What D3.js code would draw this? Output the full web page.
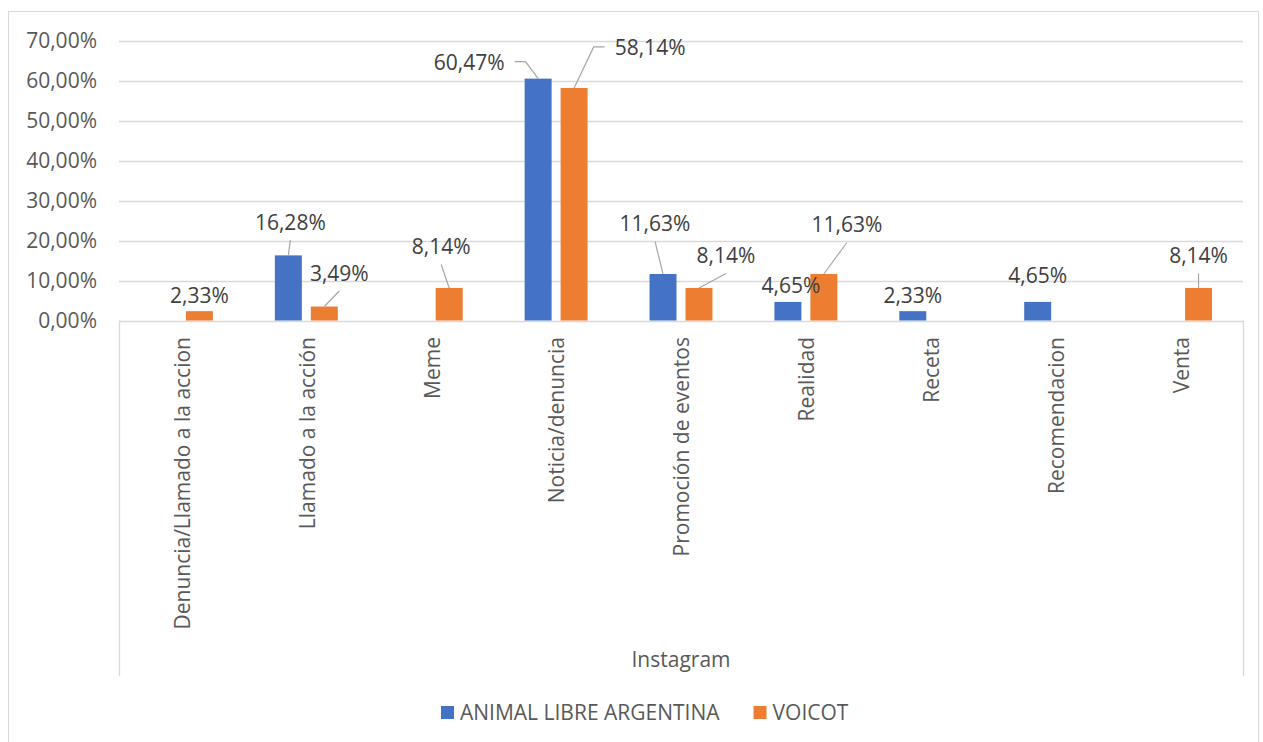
<!DOCTYPE html>
<html>
<head>
<meta charset="utf-8">
<script src="https://cdn.jsdelivr.net/npm/d3@7"></script>
<style>
  html, body { margin: 0; padding: 0; background: #fff; }
  svg text { font-family: "Open Sans", "Noto Sans", sans-serif; fill: #595959; }
  svg text.data-label { fill: #404040; }
</style>
</head>
<body>
<svg id="chart" width="1263" height="742"></svg>
<script>
// Categories and series
const categories = [
  "Denuncia/Llamado a la accion", "Llamado a la acción", "Meme", "Noticia/denuncia",
  "Promoción de eventos", "Realidad", "Receta", "Recomendacion", "Venta"
];
const seriesNames = ["ANIMAL LIBRE ARGENTINA", "VOICOT"];
const animalLibre = [0, 16.28, 0, 60.47, 11.63, 4.65, 2.33, 4.65, 0];
const voicot      = [2.33, 3.49, 8.14, 58.14, 8.14, 11.63, 0, 0, 8.14];
const yTicks = [0, 10, 20, 30, 40, 50, 60, 70];
const axisTitle = "Instagram";

// Data-label placement (offset of label centre from bar top, in px) and leader style
const labelOffsets = [
  // ANIMAL LIBRE ARGENTINA
  [null, {dx: 2, dy: -33, leader: "below"}, null, {dx: -69, dy: -16, leader: "side"},
   {dx: -8, dy: -50, leader: "below"}, {dx: 3, dy: -16}, {dx: 0, dy: -16}, {dx: 0, dy: -26}, null],
  // VOICOT
  [{dx: 0, dy: -16}, {dx: 15, dy: -33, leader: "below"}, {dx: -8, dy: -41, leader: "below"},
   {dx: 76, dy: -40, leader: "side"}, {dx: 27, dy: -32, leader: "below"},
   {dx: 23, dy: -49, leader: "below"}, null, null, {dx: 0, dy: -32, leader: "below"}]
];

const colors = ["#4472C4", "#ED7D31"];
const values = [animalLibre, voicot];
const fontSize = 21;

const locale = d3.formatLocale({decimal: ",", thousands: ".", grouping: [3], currency: ["", "€"]});
const fmt = locale.format(".2f");

const svg = d3.select("#chart");
const plot = {left: 119, right: 1243, top: 40.5, bottom: 320.5};

// Outer chart frame
svg.append("rect")
  .attr("x", 8.5).attr("y", 11.5).attr("width", 1250).attr("height", 740)
  .attr("fill", "none").attr("stroke", "#d9d9d9").attr("stroke-width", 1);

const y = d3.scaleLinear().domain([0, 70]).range([plot.bottom, plot.top]);
const x = d3.scaleBand().domain(categories).range([plot.left, plot.right]).padding(0);
const bw = x.bandwidth();
const xs = d3.scaleBand().domain(seriesNames)
  .range([-bw * 0.252, bw * 0.252]).paddingInner(0.25).paddingOuter(0);

// Gridlines
svg.append("g").selectAll("line").data(yTicks).join("line")
  .attr("x1", plot.left).attr("x2", plot.right)
  .attr("y1", d => Math.round(y(d)) + 0.5).attr("y2", d => Math.round(y(d)) + 0.5)
  .attr("stroke", "#d9d9d9").attr("stroke-width", 1.3);

// Y tick labels
svg.append("g").selectAll("text").data(yTicks).join("text")
  .attr("x", 97).attr("y", d => y(d)).attr("dy", "0.35em")
  .attr("text-anchor", "end").attr("font-size", fontSize)
  .text(d => fmt(d) + "%");

// Category axis frame (multi-level box edges)
[plot.left, plot.right].forEach(px => {
  svg.append("line")
    .attr("x1", px + 0.5).attr("x2", px + 0.5)
    .attr("y1", plot.bottom).attr("y2", 676)
    .attr("stroke", "#d9d9d9").attr("stroke-width", 1.3);
});

// Bars
seriesNames.forEach((s, si) => {
  svg.append("g").selectAll("rect")
    .data(categories.map((c, i) => ({c, v: values[si][i]})).filter(d => d.v > 0))
    .join("rect")
    .attr("x", d => x(d.c) + bw / 2 + xs(s))
    .attr("width", xs.bandwidth())
    .attr("y", d => y(d.v))
    .attr("height", d => y(0) - y(d.v))
    .attr("fill", colors[si]);
});

// Data labels with leader lines
const measure = svg.append("text").attr("font-size", fontSize).attr("visibility", "hidden");
seriesNames.forEach((s, si) => {
  categories.forEach((c, i) => {
    const off = labelOffsets[si][i];
    const v = values[si][i];
    if (!off || v <= 0) return;
    const bx = x(c) + bw / 2 + xs(s) + xs.bandwidth() / 2;
    const by = y(v);
    const lx = bx + off.dx, ly = by + off.dy;
    const txt = fmt(v) + "%";
    measure.text(txt);
    const tw = measure.node().getComputedTextLength();
    if (off.leader === "below") {
      svg.append("line")
        .attr("x1", lx).attr("y1", ly + 17.5)
        .attr("x2", bx).attr("y2", by)
        .attr("stroke", "#a6a6a6").attr("stroke-width", 1.2);
    } else if (off.leader === "side") {
      const dir = off.dx < 0 ? 1 : -1;
      const edge = lx + dir * tw / 2;
      const p1 = edge + dir * 10, p2 = edge + dir * 21;
      svg.append("polyline")
        .attr("points", [[p1, ly - 1], [p2, ly - 1], [bx, by]].map(p => p.join(",")).join(" "))
        .attr("fill", "none").attr("stroke", "#a6a6a6").attr("stroke-width", 1.2);
    }
    svg.append("text").attr("class", "data-label")
      .attr("x", lx).attr("y", ly).attr("dy", "0.35em")
      .attr("text-anchor", "middle").attr("font-size", fontSize)
      .text(txt);
  });
});
measure.remove();

// Category labels (rotated)
svg.append("g").selectAll("text").data(categories).join("text")
  .attr("transform", d => `translate(${x(d) + bw / 2 + 1},337) rotate(-90)`)
  .attr("dy", "0.35em").attr("text-anchor", "end").attr("font-size", fontSize)
  .text(d => d);

// Axis title
svg.append("text")
  .attr("x", (plot.left + plot.right) / 2).attr("y", 660).attr("dy", "0.35em")
  .attr("text-anchor", "middle").attr("font-size", fontSize)
  .text(axisTitle);

// Legend
const legend = svg.append("g");
let lxPos = 441;
seriesNames.forEach((s, si) => {
  legend.append("rect").attr("x", lxPos).attr("y", 706).attr("width", 13).attr("height", 13)
    .attr("fill", colors[si]);
  const t = legend.append("text").attr("x", lxPos + 19).attr("y", 712.5).attr("dy", "0.35em")
    .attr("font-size", fontSize).text(s);
  lxPos += 19 + t.node().getComputedTextLength() + 34;
});
</script>
</body>
</html>
